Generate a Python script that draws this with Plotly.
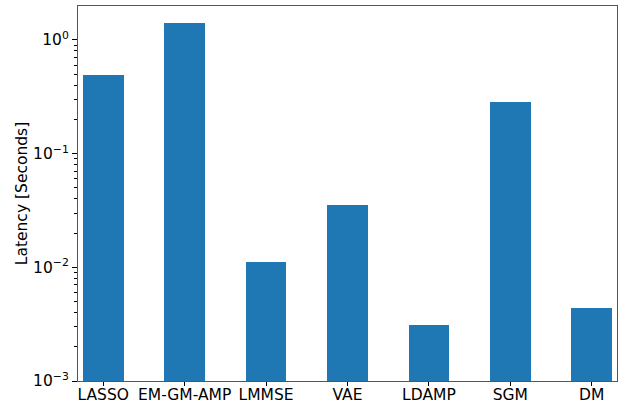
import numpy as np
import plotly.graph_objects as go

# Method names and measured latency in seconds
methods = ["LASSO", "EM-GM-AMP", "LMMSE", "VAE", "LDAMP", "SGM", "DM"]
latency = [0.49, 1.41, 0.0111, 0.0353, 0.00311, 0.284, 0.00438]

# Decade ticks for the log axis
decades = [-3, -2, -1, 0]
decade_vals = [10.0 ** d for d in decades]
decade_text = ["10<sup>%s</sup>" % ("\u2212%d" % -d if d < 0 else str(d)) for d in decades]
minor_vals = [m * 10.0 ** d for d in range(-3, 1) for m in range(2, 10)]

font = dict(family="DejaVu Sans", size=15.5, color="black")

fig = go.Figure(
    go.Bar(
        x=list(range(len(methods))),
        y=latency,
        width=0.5,
        marker=dict(color="#1f77b4", line=dict(width=0)),
    )
)

fig.update_layout(
    width=630,
    height=404,
    margin=dict(l=78, r=13, t=6, b=23, autoexpand=False),
    plot_bgcolor="white",
    paper_bgcolor="white",
    font=font,
    showlegend=False,
    bargap=0,
)

fig.update_xaxes(
    range=[-0.31, 6.31],
    tickmode="array",
    tickvals=list(range(len(methods))),
    ticktext=methods,
    ticks="outside",
    ticklen=4,
    tickwidth=1,
    tickcolor="black",
    ticklabelstandoff=-5,
    showline=True,
    linecolor="#555555",
    linewidth=1.2,
    mirror=True,
    showgrid=False,
    zeroline=False,
    tickfont=font,
    automargin=False,
)

fig.update_yaxes(
    type="log",
    range=[-3, 0.298],
    tickmode="array",
    tickvals=decade_vals,
    ticktext=decade_text,
    ticks="outside",
    ticklen=5,
    tickwidth=1,
    tickcolor="black",
    minor=dict(tickmode="array", tickvals=minor_vals, ticks="outside", ticklen=3,
               tickwidth=0.8, tickcolor="black", showgrid=False),
    showline=True,
    linecolor="#555555",
    linewidth=1.2,
    mirror=True,
    showgrid=False,
    zeroline=False,
    tickfont=font,
    automargin=False,
    title=dict(text="Latency [Seconds]", font=font, standoff=1),
)

fig.write_html("out.html")
